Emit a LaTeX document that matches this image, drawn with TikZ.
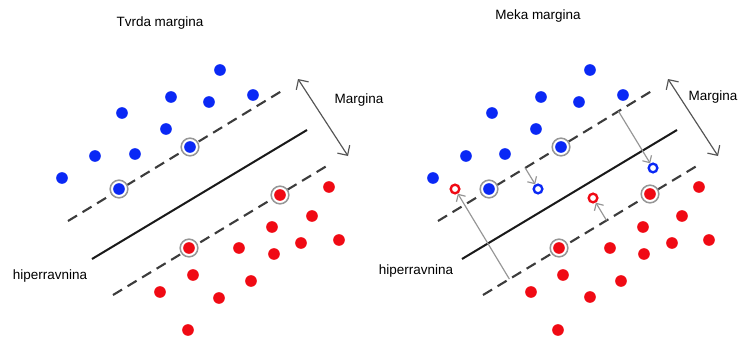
\documentclass[tikz,border=0pt]{standalone}
\usepackage{fontspec}
\setmainfont{Liberation Sans}
\usetikzlibrary{arrows.meta, calc}
\definecolor{svmblue}{RGB}{10,40,245}
\definecolor{svmred}{RGB}{240,10,20}
\definecolor{svmgray}{RGB}{85,85,85}
\definecolor{svmlight}{RGB}{150,150,150}
\definecolor{svmdash}{RGB}{60,60,60}

\begin{document}
\begin{tikzpicture}[x=0.03cm, y=-0.03cm,
      dot/.style={circle, inner sep=0pt, outer sep=0pt, minimum size=3.5mm},
      bdot/.style={dot, fill=svmblue},
      rdot/.style={dot, fill=svmred},
      sv/.style={circle, inner sep=0pt, minimum size=5.3mm, draw=svmlight,
                 line width=1.3pt, fill=white,
                 path picture={\fill[#1] (path picture bounding box.center) circle (1.75mm);}},
      hollow/.style={circle, inner sep=0pt, minimum size=2.6mm, draw=#1,
                     line width=2pt, fill=white},
      lbl/.style={font=\fontsize{11.5}{13}\selectfont, text=black},
      margin/.style={dash pattern=on 9pt off 5.5pt, line width=1.8pt, svmdash},
      hyper/.style={line width=1.7pt, black!90},
      marr/.style={{Straight Barb[length=2.2mm]}-{Straight Barb[length=2.2mm]},
                   line width=1pt, svmgray},
      slack/.style={-{Straight Barb[length=1.6mm]}, line width=1pt, svmlight}]
    \useasboundingbox (0,0) rectangle (740,338);
    % left: hard margin
    \node[lbl] (ltitle) at (160,23) {Tvrda margina};
    \coordinate (lu1) at (68,221);  \coordinate (lu2) at (285,89);
    \coordinate (lh1) at (92,259);  \coordinate (lh2) at (307,130);
    \coordinate (ld1) at (113,295); \coordinate (ld2) at (330,164);
    \draw[margin] (lu1) -- (lu2);
    \draw[hyper]  (lh1) -- (lh2);
    \draw[margin] (ld1) -- (ld2);
    \coordinate (lm1) at (298,79); \coordinate (lm2) at (348,156);
    \draw[marr] (lm1) -- (lm2);
    \node[lbl] (lmargin) at (359,100) {Margina};
    \node[lbl] (lhyper) at (50,276) {hiperravnina};
    \foreach \x/\y [count=\i] in {220/70, 171/97, 209/102, 253/95, 122/113,
        166/129, 95/156, 135/154, 62/178}
      \node[bdot] (lb\i) at (\x,\y) {};
    \foreach \x/\y [count=\i] in {329/187, 312/216, 272/227, 301/243, 339/240,
        239/248, 274/254, 193/275, 251/281, 160/292, 219/298, 188/330}
      \node[rdot] (lr\i) at (\x,\y) {};
    \node[sv=svmblue] (lsb1) at (190,147) {};
    \node[sv=svmblue] (lsb2) at (119,189) {};
    \node[sv=svmred]  (lsr1) at (280,195) {};
    \node[sv=svmred]  (lsr2) at (189,248) {};
    % right: soft margin
    \node[lbl] (rtitle) at (538,16) {Meka margina};
    \coordinate (ru1) at (438,221); \coordinate (ru2) at (655,89);
    \coordinate (rh1) at (462,259); \coordinate (rh2) at (677,130);
    \coordinate (rd1) at (483,295); \coordinate (rd2) at (700,164);
    \draw[margin] (ru1) -- (ru2);
    \draw[hyper]  (rh1) -- (rh2);
    \draw[margin] (rd1) -- (rd2);
    \coordinate (rm1) at (668,79); \coordinate (rm2) at (718,156);
    \draw[marr] (rm1) -- (rm2);
    \node[lbl] (rmargin) at (713,97) {Margina};
    \node[lbl] (rhyper) at (416,271) {hiperravnina};
    \foreach \x/\y [count=\i] in {590/70, 541/97, 579/102, 623/95, 492/113,
        536/129, 466/156, 505/154, 433/178}
      \node[bdot] (rb\i) at (\x,\y) {};
    \foreach \x/\y [count=\i] in {699/187, 682/216, 643/227, 672/243, 709/240,
        610/248, 644/254, 563/275, 621/281, 531/292, 590/297, 558/330}
      \node[rdot] (rr\i) at (\x,\y) {};
    \node[sv=svmblue] (rsb1) at (561,147) {};
    \node[sv=svmblue] (rsb2) at (489,189) {};
    \node[sv=svmred]  (rsr1) at (650,194) {};
    \node[sv=svmred]  (rsr2) at (559,248) {};
    \node[hollow=svmblue] (hb1) at (538,189) {};
    \node[hollow=svmblue] (hb2) at (653,168) {};
    \node[hollow=svmred]  (hr1) at (455,189) {};
    \node[hollow=svmred]  (hr2) at (593,198) {};
    % slack arrows
    \coordinate (fb1) at ($(ru1)!(hb1)!(ru2)$);
    \coordinate (fb2) at ($(ru1)!(hb2)!(ru2)$);
    \coordinate (fr1) at ($(rd1)!(hr1)!(rd2)$);
    \coordinate (fr2) at ($(rd1)!(hr2)!(rd2)$);
    \draw[slack] (fb1) -- (hb1);
    \draw[slack] (fb2) -- (hb2);
    \draw[slack] (fr1) -- (hr1);
    \draw[slack] (fr2) -- (hr2);
\end{tikzpicture}
\end{document}
